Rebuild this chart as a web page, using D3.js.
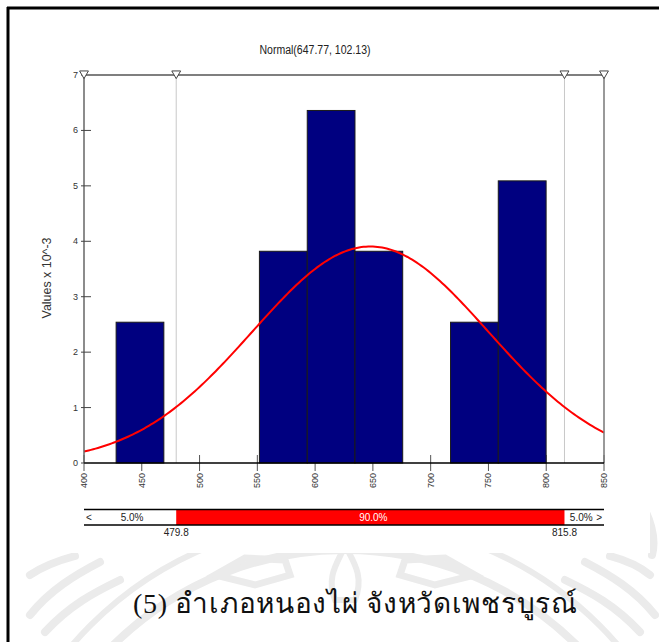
<!DOCTYPE html>
<html>
<head>
<meta charset="utf-8">
<script src="https://cdn.jsdelivr.net/npm/d3@7/dist/d3.min.js"></script>
<style>
  html, body { margin: 0; padding: 0; background: #fff; }
  svg { display: block; }
  text { font-family: "Liberation Sans", Arial, sans-serif; }
</style>
</head>
<body>
<svg id="chart" width="659" height="642"></svg>
<script>
// Histogram of the sample (densities, values x 10^-3) and the fitted normal
const binEdges = [427.8, 469.1, 510.5, 551.8, 593.2, 634.5, 675.8, 717.2, 758.5, 799.9];
const densities = [2.54, 0, 0, 3.82, 6.36, 3.82, 0, 2.54, 5.09];
const fitMean = 647.77;
const fitSd = 102.13;
const xTicks = [400, 450, 500, 550, 600, 650, 700, 750, 800, 850];
const yTicks = [0, 1, 2, 3, 4, 5, 6, 7];
const cutLow = 479.8;
const cutHigh = 815.8;
const tailLabels = ["5.0%", "90.0%", "5.0%"];
const titleText = "Normal(647.77, 102.13)";
const yTitle = "Values x 10^-3";
const caption = "(5) อำเภอหนองไผ่ จังหวัดเพชรบูรณ์";

const svg = d3.select("#chart");
const W = 659, H = 642;

const x = d3.scaleLinear().domain([400, 850]).range([84, 604]);
const y = d3.scaleLinear().domain([0, 7]).range([463, 75]);

// ---- faint seal watermark behind the caption ----
const wm = svg.append("g").attr("fill", "none").attr("stroke", "#ebebeb").attr("stroke-linecap", "round");
wm.append("circle").attr("cx", 345).attr("cy", 880).attr("r", 330).attr("stroke-width", 8);
wm.append("circle").attr("cx", 345).attr("cy", 880).attr("r", 360).attr("stroke-width", 6);
wm.append("path").attr("stroke-width", 7)
  .attr("d", "M215,575 L245,558 L285,560 L290,575 L255,585 Z");
wm.append("path").attr("stroke-width", 7)
  .attr("d", "M475,575 L445,558 L405,560 L400,575 L435,585 Z");
wm.append("path").attr("stroke-width", 6)
  .attr("d", "M335,600 C325,575 340,560 345,545 C352,560 365,575 355,600 Z");
wm.append("path").attr("stroke-width", 8)
  .attr("d", "M30,615 C50,590 75,575 100,562 M45,632 C70,605 95,592 120,580 M30,575 C45,565 60,560 75,556");
wm.append("path").attr("stroke-width", 8)
  .attr("d", "M655,615 C635,590 610,575 585,562 M640,632 C615,605 590,592 565,580 M650,575 C638,565 625,560 610,556");
wm.append("path").attr("stroke-width", 8)
  .attr("d", "M645,510 C652,525 656,540 652,555");

// white panel holding the chart
svg.append("rect").attr("x", 18).attr("y", 9).attr("width", 632).attr("height", 544).attr("fill", "#fff");

// frame lines (top and left)
svg.append("line").attr("x1", 7).attr("x2", W).attr("y1", 8).attr("y2", 8)
  .attr("stroke", "#000").attr("stroke-width", 3);
svg.append("line").attr("x1", 8).attr("x2", 8).attr("y1", 7).attr("y2", H)
  .attr("stroke", "#000").attr("stroke-width", 3);

// title
svg.append("text").attr("x", 315).attr("y", 54).attr("text-anchor", "middle")
  .attr("font-size", 12.5).attr("fill", "#222")
  .attr("textLength", 111).attr("lengthAdjust", "spacingAndGlyphs")
  .text(titleText);

// y axis title
svg.append("text").attr("transform", "translate(51,278) rotate(-90)")
  .attr("text-anchor", "middle").attr("font-size", 12).attr("fill", "#333")
  .attr("textLength", 81).attr("lengthAdjust", "spacingAndGlyphs")
  .text(yTitle);

// cut-off guide lines
svg.selectAll("line.cut").data([cutLow, cutHigh]).join("line")
  .attr("x1", d => x(d)).attr("x2", d => x(d)).attr("y1", y(7)).attr("y2", y(0))
  .attr("stroke", "#c8c8c8").attr("stroke-width", 1);

// x ticks (drawn under the bars)
svg.selectAll("line.xt").data(xTicks).join("line")
  .attr("x1", d => x(d)).attr("x2", d => x(d)).attr("y1", y(0) - 8).attr("y2", y(0) + 8)
  .attr("stroke", "#555").attr("stroke-width", 1);

// bars
const bars = densities.map((v, i) => ({ x0: binEdges[i], x1: binEdges[i + 1], v }))
  .filter(d => d.v > 0);
svg.selectAll("rect.bar").data(bars).join("rect")
  .attr("x", d => x(d.x0)).attr("width", d => x(d.x1) - x(d.x0))
  .attr("y", d => y(d.v)).attr("height", d => y(0) - y(d.v))
  .attr("fill", "#000080").attr("stroke", "#1a1a1a").attr("stroke-width", 1);

// fitted normal density (x 10^3)
const pdf = t => 1000 * Math.exp(-0.5 * Math.pow((t - fitMean) / fitSd, 2)) / (fitSd * Math.sqrt(2 * Math.PI));
const curvePts = d3.range(400, 850.01, 2).map(t => [t, pdf(t)]);
svg.append("path").datum(curvePts)
  .attr("d", d3.line().x(d => x(d[0])).y(d => y(d[1])))
  .attr("fill", "none").attr("stroke", "#ff0000").attr("stroke-width", 2);

// axes lines
svg.append("line").attr("x1", x(400)).attr("x2", x(400)).attr("y1", y(7)).attr("y2", y(0))
  .attr("stroke", "#666").attr("stroke-width", 1.5);
svg.append("line").attr("x1", x(850)).attr("x2", x(850)).attr("y1", y(7)).attr("y2", y(0))
  .attr("stroke", "#777").attr("stroke-width", 1.5);
svg.append("line").attr("x1", x(400)).attr("x2", x(850)).attr("y1", y(0)).attr("y2", y(0))
  .attr("stroke", "#000").attr("stroke-width", 1.5);
svg.append("line").attr("x1", x(400)).attr("x2", x(850)).attr("y1", y(7)).attr("y2", y(7))
  .attr("stroke", "#555").attr("stroke-width", 1.5);

// y ticks and labels
svg.selectAll("line.yt").data(yTicks).join("line")
  .attr("x1", x(400) - 3).attr("x2", d => x(400) + (d === 7 ? 0 : 7))
  .attr("y1", d => y(d)).attr("y2", d => y(d))
  .attr("stroke", "#444").attr("stroke-width", 1);
svg.selectAll("text.yl").data(yTicks).join("text")
  .attr("x", x(400) - 6).attr("y", d => y(d) + 3).attr("text-anchor", "end")
  .attr("font-size", 9).attr("fill", "#333").text(d => d);

// x tick labels, rotated
svg.selectAll("text.xl").data(xTicks).join("text")
  .attr("transform", d => `translate(${x(d) + 3},${y(0) + 10}) rotate(-90)`)
  .attr("text-anchor", "end").attr("font-size", 9).attr("fill", "#333").text(d => d);

// marker triangles along the top line
const tri = d3.symbol().type(d3.symbolTriangle).size(34);
svg.selectAll("path.mk").data([400, cutLow, cutHigh, 850]).join("path")
  .attr("d", tri())
  .attr("transform", d => `translate(${x(d)},${y(7) - 1.5}) rotate(180)`)
  .attr("fill", "#fff").attr("stroke", "#444").attr("stroke-width", 1);

// probability bar under the chart
const bTop = 509.5, bBot = 525;
svg.append("rect").attr("x", x(cutLow)).attr("y", bTop).attr("width", x(cutHigh) - x(cutLow))
  .attr("height", bBot - bTop).attr("fill", "#ff0000");
svg.append("line").attr("x1", x(400)).attr("x2", x(850)).attr("y1", bTop).attr("y2", bTop)
  .attr("stroke", "#000").attr("stroke-width", 1.5);
svg.append("line").attr("x1", x(400)).attr("x2", x(850)).attr("y1", bBot).attr("y2", bBot)
  .attr("stroke", "#000").attr("stroke-width", 1.5);
const midY = (bTop + bBot) / 2 + 3.5;
svg.append("text").attr("x", x(400) + 2).attr("y", midY).attr("font-size", 10).attr("fill", "#222").text("<");
svg.append("text").attr("x", x(850) - 2).attr("y", midY).attr("text-anchor", "end").attr("font-size", 10).attr("fill", "#222").text(">");
const tailCenters = [(x(400) + x(cutLow)) / 2 + 2, (x(cutLow) + x(cutHigh)) / 2 + 3, (x(cutHigh) + x(850)) / 2 - 3];
svg.selectAll("text.pct").data(tailLabels).join("text")
  .attr("x", (d, i) => tailCenters[i]).attr("y", midY).attr("text-anchor", "middle")
  .attr("font-size", 10).attr("fill", (d, i) => i === 1 ? "#fff" : "#222").text(d => d);
svg.selectAll("text.cutl").data([cutLow, cutHigh]).join("text")
  .attr("x", d => x(d)).attr("y", 536).attr("text-anchor", "middle")
  .attr("font-size", 10).attr("fill", "#222").text(d => d.toFixed(1));

// caption
svg.append("text").attr("x", 355).attr("y", 613).attr("text-anchor", "middle")
  .style("font-family", "'Liberation Serif', 'Times New Roman', serif")
  .attr("font-size", 28).attr("font-weight", 400).attr("fill", "#111")
  .attr("textLength", 444).attr("lengthAdjust", "spacing")
  .text(caption);
</script>
</body>
</html>
